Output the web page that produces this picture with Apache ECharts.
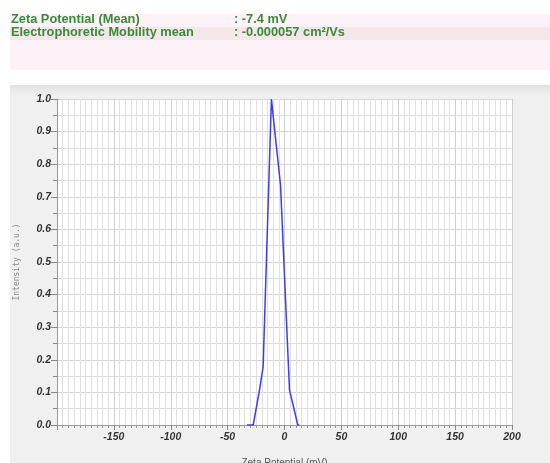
<!DOCTYPE html>
<html>
<head>
<meta charset="utf-8">
<script src="https://cdn.jsdelivr.net/npm/echarts@6/dist/echarts.min.js"></script>
<style>
html,body{margin:0;padding:0;background:#fff;}
#chart{width:550px;height:463px;}
</style>
</head>
<body>
<div id="chart"></div>
<script>
// Data
var zetaPotential = [-33, -27.5, -22, -18.8, -11.5, -9.3, -3.5, 4.4, 11.7, 13];
var intensity     = [0,   0,     0.107, 0.178, 1.0, 0.926, 0.736, 0.107, 0, 0];
var headerLabels = ['Zeta Potential (Mean)', 'Electrophoretic Mobility mean'];
var headerValues = [': -7.4 mV', ': -0.000057 cm\u00B2/Vs'];
var xTicks = [-200, -150, -100, -50, 0, 50, 100, 150, 200];
var yTicks = [0.0, 0.1, 0.2, 0.3, 0.4, 0.5, 0.6, 0.7, 0.8, 0.9, 1.0];

var points = zetaPotential.map(function (x, i) { return [x, intensity[i]]; });
var chart = echarts.init(document.getElementById('chart'), null, {renderer: 'canvas'});

var headerFont = 'bold 12.8px "Liberation Sans", Arial, sans-serif';
var headerText = [];
headerLabels.forEach(function (t, i) {
  headerText.push({type: 'text', left: 11, top: 13 + i * 13,
    style: {text: t, fill: '#3a8a3a', font: headerFont}});
  headerText.push({type: 'text', left: 234, top: 13 + i * 13,
    style: {text: headerValues[i], fill: '#3a8a3a', font: headerFont}});
});

chart.setOption({
  animation: false,
  backgroundColor: '#ffffff',
  graphic: [
    {type: 'rect', z: -10, shape: {x: 10, y: 14, width: 540, height: 56}, style: {fill: '#fdf2f7'}},
    {type: 'rect', z: -9, shape: {x: 10, y: 27, width: 540, height: 13}, style: {fill: '#f4e6e9'}},
    {type: 'rect', z: -10, shape: {x: 10, y: 85, width: 540, height: 378},
      style: {fill: new echarts.graphic.LinearGradient(0, 0, 0, 1, [
        {offset: 0, color: '#e2e2e2'}, {offset: 0.03, color: '#f0f0f0'}, {offset: 1, color: '#f0f0f0'}])}},
    {type: 'rect', z: -8, shape: {x: 57, y: 99, width: 455, height: 326}, style: {fill: '#ffffff'}}
  ].concat(headerText),
  grid: {left: 57, top: 99, width: 455, height: 326, containLabel: false, outerBoundsMode: 'none'},
  xAxis: {
    type: 'value', min: -200, max: 200, interval: 50,
    name: 'Zeta Potential (mV)', nameLocation: 'middle', nameGap: 33,
    nameTextStyle: {color: '#555', fontSize: 10, fontFamily: '"Liberation Sans", Arial, sans-serif'},
    axisLine: {show: true, onZero: false, lineStyle: {color: '#999', width: 1}},
    axisTick: {show: true, length: 5, lineStyle: {color: '#888'}},
    minorTick: {show: true, splitNumber: 10, length: 3, lineStyle: {color: '#999'}},
    splitLine: {show: true, lineStyle: {color: '#cfcfcf', width: 1}},
    minorSplitLine: {show: true, lineStyle: {color: '#e0e0e0', width: 1}},
    axisLabel: {
      margin: 7, color: '#333', fontSize: 10.5, fontWeight: 'bold', fontStyle: 'italic',
      fontFamily: '"Liberation Sans", Arial, sans-serif',
      formatter: function (v) { return v === -200 ? '' : String(v); }
    }
  },
  yAxis: {
    type: 'value', min: 0, max: 1, interval: 0.1,
    name: 'Intensity (a.u.)', nameLocation: 'middle', nameGap: 36,
    nameTextStyle: {color: '#888', fontSize: 8, fontFamily: '"DejaVu Sans Mono", "Liberation Mono", monospace'},
    axisLine: {show: true, onZero: false, lineStyle: {color: '#999', width: 1}},
    axisTick: {show: true, length: 6, lineStyle: {color: '#888'}},
    minorTick: {show: true, splitNumber: 2, length: 4, lineStyle: {color: '#888'}},
    splitLine: {show: true, lineStyle: {color: '#d4d4d4', width: 1}},
    minorSplitLine: {show: true, lineStyle: {color: '#dcdcdc', width: 1}},
    axisLabel: {
      margin: 6, color: '#333', fontSize: 10.5, fontWeight: 'bold', fontStyle: 'italic',
      fontFamily: '"Liberation Sans", Arial, sans-serif',
      formatter: function (v) { return v.toFixed(1); }
    }
  },
  series: [{
    type: 'line', data: points, showSymbol: false, smooth: false,
    lineStyle: {color: '#3b3bff', width: 1.5}, clip: false
  }]
});
</script>
</body>
</html>
